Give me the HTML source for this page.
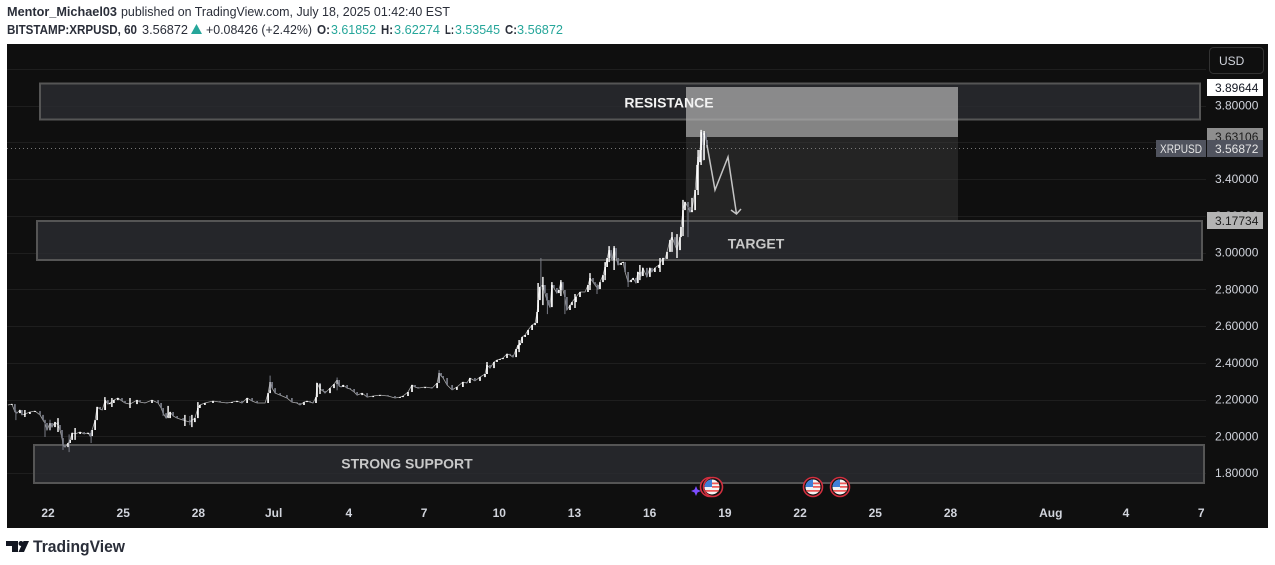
<!DOCTYPE html>
<html lang="en">
<head>
<meta charset="utf-8">
<title>XRPUSD chart</title>
<style>
html,body{margin:0;padding:0;background:#fff;width:1275px;height:565px;overflow:hidden}
svg{display:block;font-family:"Liberation Sans",sans-serif}
</style>
</head>
<body>
<svg id="root" width="1275" height="565" viewBox="0 0 1275 565">
  <g font-size="12.5" fill="#2a2e39">
    <text x="7" y="16" font-weight="700" textLength="110" lengthAdjust="spacingAndGlyphs">Mentor_Michael03</text>
    <text x="121" y="16" textLength="329" lengthAdjust="spacingAndGlyphs">published on TradingView.com, July 18, 2025 01:42:40 EST</text>
    <text x="7" y="34" font-weight="700" textLength="130" lengthAdjust="spacingAndGlyphs">BITSTAMP:XRPUSD, 60</text>
    <text x="142" y="34" textLength="46" lengthAdjust="spacingAndGlyphs">3.56872</text>
    <polygon points="191,34 202,34 196.5,24" fill="#26a69a"/>
    <text x="206" y="34" textLength="106" lengthAdjust="spacingAndGlyphs">+0.08426 (+2.42%)</text>
    <text x="317" y="34" font-weight="700" textLength="13" lengthAdjust="spacingAndGlyphs">O:</text>
    <text x="331" y="34" fill="#26a69a" textLength="45" lengthAdjust="spacingAndGlyphs">3.61852</text>
    <text x="381" y="34" font-weight="700" textLength="12" lengthAdjust="spacingAndGlyphs">H:</text>
    <text x="394" y="34" fill="#26a69a" textLength="46" lengthAdjust="spacingAndGlyphs">3.62274</text>
    <text x="445" y="34" font-weight="700" textLength="9" lengthAdjust="spacingAndGlyphs">L:</text>
    <text x="455" y="34" fill="#26a69a" textLength="45" lengthAdjust="spacingAndGlyphs">3.53545</text>
    <text x="505" y="34" font-weight="700" textLength="12" lengthAdjust="spacingAndGlyphs">C:</text>
    <text x="517" y="34" fill="#26a69a" textLength="46" lengthAdjust="spacingAndGlyphs">3.56872</text>
  </g>

  <rect x="7" y="44" width="1261" height="484" fill="#0f0f0f"/>
  <g id="grid"></g>

  <g>
    <rect x="40" y="83.5" width="1160" height="36" fill="#2a2c31" fill-opacity=".8" stroke="#555" stroke-width="2"/>
    <rect x="37" y="221" width="1165" height="39" fill="#2a2c31" fill-opacity=".8" stroke="#555" stroke-width="2"/>
    <rect x="34" y="445" width="1170" height="38" fill="#2a2c31" fill-opacity=".8" stroke="#555" stroke-width="2"/>
    <rect x="686" y="87" width="272" height="50" fill="#b2b2b2" fill-opacity=".72"/>
    <rect x="686" y="137" width="272" height="83" fill="#3a3a3a" fill-opacity=".5"/>
  </g>

  <line x1="7" x2="1156" y1="148.5" y2="148.5" stroke="#777" stroke-width="1" stroke-dasharray="1 3"/>
  <g id="series"></g>

  <g font-weight="700" font-size="14" text-anchor="middle">
    <text x="669" y="107.5" fill="#f2f2f2">RESISTANCE</text>
    <text x="756" y="248.5" fill="#c8c8c8">TARGET</text>
    <text x="407" y="468.5" fill="#c8c8c8">STRONG SUPPORT</text>
  </g>

  <g fill="none" stroke="#c4c4c4" stroke-width="1.5">
    <polyline points="707,145 715,190 728,157 736.5,214"/>
    <polyline points="731,210 736.5,214 741,209"/>
  </g>

  <g id="events">
    <path d="M704 481 A10 10 0 0 0 704 494" fill="none" stroke="#7b3fe4" stroke-width="1.5"/>
    <path d="M696 486 L697.5 489.5 L701 491 L697.5 492.5 L696 496 L694.5 492.5 L691 491 L694.5 489.5 Z" fill="#7c4dff"/>
    <g><circle cx="710" cy="487" r="9.5" fill="#101010" stroke="#d32f3f" stroke-width="1.6"/></g>
    <g>
      <circle cx="713" cy="487" r="9.5" fill="#101010" stroke="#d32f3f" stroke-width="1.6"/>
      <circle cx="712" cy="487" r="7.5" fill="#f4f4f4"/>
      <path d="M704.8 485 A7.5 7.5 0 0 1 712 479.5 V487 H704.5 Z" fill="#3f7fd8"/>
      <path d="M712 482.5h7v1.8h-7zM712 486h7.5v1.8h-7.5zM705.5 490h13v1.8h-13z" fill="#ee5a5a"/>
    </g>
    <g>
      <circle cx="813" cy="487" r="9.5" fill="#101010" stroke="#d32f3f" stroke-width="1.6"/>
      <circle cx="813" cy="487" r="7.5" fill="#f4f4f4"/>
      <path d="M805.8 485 A7.5 7.5 0 0 1 813 479.5 V487 H805.5 Z" fill="#3f7fd8"/>
      <path d="M813 482.5h7v1.8h-7zM813 486h7.5v1.8h-7.5zM806.5 490h13v1.8h-13z" fill="#ee5a5a"/>
    </g>
    <g>
      <circle cx="840" cy="487" r="9.5" fill="#101010" stroke="#d32f3f" stroke-width="1.6"/>
      <circle cx="840" cy="487" r="7.5" fill="#f4f4f4"/>
      <path d="M832.8 485 A7.5 7.5 0 0 1 840 479.5 V487 H832.5 Z" fill="#3f7fd8"/>
      <path d="M840 482.5h7v1.8h-7zM840 486h7.5v1.8h-7.5zM833.5 490h13v1.8h-13z" fill="#ee5a5a"/>
    </g>
  </g>

  <g id="yaxis" font-size="12" fill="#d1d4dc"></g>
  <g id="xaxis" font-size="12" font-weight="700" fill="#d1d4dc" text-anchor="middle"></g>

  <g font-size="12">
    <rect x="1207" y="79" width="56" height="17" fill="#fff"/>
    <text x="1215" y="92" fill="#131722">3.89644</text>
    <rect x="1207" y="128" width="56" height="17" fill="#8e8e8e"/>
    <text x="1215" y="141" fill="#1c1c1c">3.63106</text>
    <rect x="1207" y="140" width="56" height="17" fill="#50535e"/>
    <text x="1215" y="153" fill="#e6e6e6">3.56872</text>
    <rect x="1156" y="140" width="50" height="17" fill="#50535e"/>
    <text x="1160" y="153" fill="#e6e6e6" textLength="42" lengthAdjust="spacingAndGlyphs">XRPUSD</text>
    <rect x="1207" y="212" width="56" height="17" fill="#b4b4b4"/>
    <text x="1215" y="225" fill="#1c1c1c">3.17734</text>
  </g>

  <g>
    <rect x="1209.5" y="47.5" width="54" height="26" rx="4" fill="#0f0f0f" stroke="#333" stroke-width="1"/>
    <text x="1219" y="65" font-size="12" fill="#d1d4dc">USD</text>
  </g>

  <g fill="#131722">
    <path d="M6 541H18V552H12V546H6Z"/>
    <circle cx="21" cy="543.5" r="2.5"/>
    <path d="M23.5 541H29L24 552H18.5Z"/>
    <text x="33" y="552" font-size="16.5" font-weight="700" fill="#2a2e39" textLength="92" lengthAdjust="spacingAndGlyphs">TradingView</text>
  </g>
</svg>

<script>
const priceTicks = [4.0, 3.8, 3.6, 3.4, 3.2, 3.0, 2.8, 2.6, 2.4, 2.2, 2.0, 1.8];
const priceLabels = ["", "3.80000", "3.60000", "3.40000", "3.20000", "3.00000", "2.80000", "2.60000", "2.40000", "2.20000", "2.00000", "1.80000"];
const timeTicks = [0, 3, 6, 9, 12, 15, 18, 21, 24, 27, 30, 33, 36, 40, 43, 46];
const timeLabels = ["22", "25", "28", "Jul", "4", "7", "10", "13", "16", "19", "22", "25", "28", "Aug", "4", "7"];

const barDays = [-1.60,-1.44,-1.32,-1.24,-1.12,-1.04,-0.92,-0.72,-0.52,-0.32,-0.20,-0.12,-0.04,0.08,0.16,0.28,0.40,0.48,0.56,0.60,0.68,0.80,0.88,0.96,1.08,1.28,1.44,1.60,1.68,1.76,1.88,1.96,2.08,2.16,2.28,2.39,2.47,2.63,2.79,2.95,3.07,3.27,3.55,3.67,3.87,4.15,4.39,4.51,4.59,4.71,4.87,4.99,5.15,5.39,5.66,5.86,5.98,6.06,6.26,6.58,6.86,7.14,7.34,7.54,7.74,7.94,8.14,8.34,8.66,8.78,8.86,8.94,9.06,9.26,9.53,9.73,9.93,10.05,10.21,10.33,10.45,10.57,10.69,10.73,10.85,10.97,11.05,11.25,11.41,11.53,11.61,11.69,11.77,11.93,12.05,12.21,12.33,12.53,12.73,12.97,13.24,13.56,13.84,14.04,14.16,14.36,14.52,14.64,14.76,15.04,15.32,15.52,15.60,15.68,15.76,15.92,16.12,16.31,16.55,16.71,16.83,17.03,17.23,17.43,17.51,17.63,17.79,17.91,18.03,18.15,18.31,18.43,18.55,18.67,18.75,18.83,18.91,19.03,19.15,19.31,19.43,19.51,19.55,19.62,19.74,19.82,19.90,19.98,20.02,20.10,20.18,20.30,20.38,20.46,20.54,20.62,20.70,20.82,20.90,21.06,21.22,21.42,21.54,21.62,21.74,21.82,21.94,22.02,22.14,22.22,22.30,22.38,22.46,22.50,22.58,22.66,22.74,22.86,22.94,23.02,23.14,23.26,23.34,23.45,23.53,23.65,23.73,23.89,24.01,24.09,24.21,24.37,24.53,24.61,24.69,24.81,24.89,25.01,25.09,25.21,25.25,25.33,25.41,25.53,25.61,25.69,25.81,25.89,25.93,25.97,26.01,26.05,26.13,26.17,26.25,26.29];
const barCloses = [2.170,2.175,2.132,2.126,2.143,2.116,2.121,2.132,2.137,2.116,2.088,2.072,2.034,2.072,2.050,2.077,2.061,2.034,1.990,1.952,1.941,1.963,1.980,2.018,2.012,2.023,2.012,2.018,2.001,2.034,2.088,2.159,2.148,2.143,2.197,2.175,2.181,2.197,2.208,2.192,2.181,2.175,2.197,2.186,2.181,2.197,2.181,2.154,2.126,2.099,2.132,2.110,2.099,2.088,2.077,2.099,2.154,2.170,2.181,2.192,2.186,2.181,2.186,2.192,2.181,2.208,2.192,2.181,2.181,2.235,2.295,2.262,2.235,2.224,2.208,2.186,2.181,2.170,2.186,2.192,2.186,2.181,2.213,2.290,2.257,2.246,2.235,2.262,2.284,2.306,2.273,2.268,2.279,2.262,2.257,2.241,2.224,2.235,2.213,2.219,2.224,2.219,2.208,2.213,2.219,2.241,2.279,2.268,2.262,2.268,2.262,2.290,2.344,2.328,2.317,2.279,2.252,2.268,2.295,2.290,2.317,2.301,2.322,2.339,2.388,2.371,2.404,2.415,2.420,2.426,2.448,2.442,2.431,2.475,2.496,2.507,2.540,2.551,2.578,2.605,2.616,2.676,2.741,2.812,2.823,2.779,2.741,2.714,2.703,2.823,2.807,2.779,2.796,2.839,2.796,2.758,2.687,2.714,2.730,2.758,2.785,2.785,2.823,2.861,2.839,2.823,2.801,2.839,2.877,2.921,2.970,3.013,2.970,2.959,3.024,2.970,2.932,2.943,2.948,2.894,2.839,2.850,2.861,2.834,2.894,2.872,2.916,2.867,2.916,2.894,2.916,2.932,2.970,2.965,3.003,3.068,3.084,3.041,3.013,3.084,3.139,3.231,3.275,3.247,3.220,3.231,3.340,3.476,3.520,3.492,3.558,3.656,3.585,3.650,3.612,3.569];

const downWickDays = [-1.28,-0.12,0.08,0.60,0.84,1.72,4.59,5.66,8.86,11.53,15.60,19.66,19.92,20.62,21.90,23.14,25.53,26.13];
const downWickHighs = [2.140,2.090,2.090,1.990,2.010,2.030,2.150,2.110,2.330,2.320,2.360,2.970,2.760,2.790,2.830,2.860,3.260,3.640];
const downWickLows = [2.088,1.996,2.030,1.925,1.914,1.963,2.110,2.060,2.250,2.250,2.290,2.800,2.665,2.665,2.774,2.812,3.084,3.500];

const upWickDays = [-0.92,0.40,1.08,2.27,2.55,3.27,4.79,5.46,5.74,5.98,10.85,17.51,18.79,19.55,19.74,20.10,20.46,21.02,21.62,22.22,22.38,22.58,23.61,24.41,24.89,25.09,25.33,25.69,25.93,26.05,26.17];
const upWickHighs = [2.143,2.099,2.045,2.213,2.208,2.208,2.165,2.116,2.116,2.186,2.284,2.404,2.524,2.834,2.867,2.839,2.850,2.774,2.888,2.948,3.035,3.035,2.932,2.970,3.111,3.100,3.286,3.297,3.558,3.667,3.661];
const upWickLows = [2.105,2.023,1.980,2.143,2.159,2.154,2.099,2.056,2.050,2.116,2.230,2.339,2.458,2.703,2.714,2.741,2.763,2.698,2.796,2.850,2.948,2.905,2.850,2.894,3.003,2.970,3.090,3.220,3.313,3.476,3.503];

const NS = 'http://www.w3.org/2000/svg';
function xScale(day) { return 48 + day * 25.07; }
function yScale(price) { return 252.5 + (3 - price) * 183.75; }

const gridGroup = document.getElementById('grid');
const yGroup = document.getElementById('yaxis');
priceTicks.forEach(function (tick, i) {
  const gridLine = document.createElementNS(NS, 'line');
  
  
  gridLine.setAttribute('x1', 7);
  gridLine.setAttribute('x2', 1206);
  gridLine.setAttribute('y1', Math.round(yScale(tick)) + 0.5);
  gridLine.setAttribute('y2', Math.round(yScale(tick)) + 0.5);
  gridLine.setAttribute('stroke', '#1e1e1e');
  gridGroup.appendChild(gridLine);
  if (priceLabels[i]) {
    const label = document.createElementNS(NS, 'text');
    
    
    label.setAttribute('x', 1215);
    label.setAttribute('y', yScale(tick) + 4);
    label.textContent = priceLabels[i];
    yGroup.appendChild(label);
  }
});

const xGroup = document.getElementById('xaxis');
timeTicks.forEach(function (day, i) {
  const label = document.createElementNS(NS, 'text');
  
  
  label.setAttribute('x', xScale(day));
  label.setAttribute('y', 517);
  label.textContent = timeLabels[i];
  xGroup.appendChild(label);
});

const seriesGroup = document.getElementById('series');
const closeLine = document.createElementNS(NS, 'polyline');


closeLine.setAttribute('fill', 'none');
closeLine.setAttribute('stroke', '#a8a8a8');
closeLine.setAttribute('stroke-width', '0.8');
closeLine.setAttribute('points', barCloses.map(function (c, i) {
  return xScale(barDays[i]).toFixed(1) + ',' + yScale(c).toFixed(1);
}).join(' '));
seriesGroup.appendChild(closeLine);

barCloses.forEach(function (close, i) {
  const open = i ? barCloses[i - 1] : close;
  const bar = document.createElementNS(NS, 'line');
  
  
  const x = xScale(barDays[i]).toFixed(1);
  bar.setAttribute('x1', x);
  bar.setAttribute('x2', x);
  bar.setAttribute('y1', yScale(open).toFixed(1));
  bar.setAttribute('y2', yScale(close).toFixed(1));
  bar.setAttribute('stroke', close >= open ? '#ffffff' : '#787b86');
  bar.setAttribute('stroke-width', '1.7');
  seriesGroup.appendChild(bar);
});

downWickDays.forEach(function (day, i) {
  const wick = document.createElementNS(NS, 'line');
  
  
  const x = xScale(day).toFixed(1);
  wick.setAttribute('x1', x);
  wick.setAttribute('x2', x);
  wick.setAttribute('y1', yScale(downWickHighs[i]).toFixed(1));
  wick.setAttribute('y2', yScale(downWickLows[i]).toFixed(1));
  wick.setAttribute('stroke', '#787b86');
  wick.setAttribute('stroke-width', '1');
  seriesGroup.appendChild(wick);
});

upWickDays.forEach(function (day, i) {
  const wick = document.createElementNS(NS, 'line');
  
  
  const x = xScale(day).toFixed(1);
  wick.setAttribute('x1', x);
  wick.setAttribute('x2', x);
  wick.setAttribute('y1', yScale(upWickHighs[i]).toFixed(1));
  wick.setAttribute('y2', yScale(upWickLows[i]).toFixed(1));
  wick.setAttribute('stroke', '#ffffff');
  wick.setAttribute('stroke-width', '1.4');
  seriesGroup.appendChild(wick);
});
</script>
</body>
</html>
